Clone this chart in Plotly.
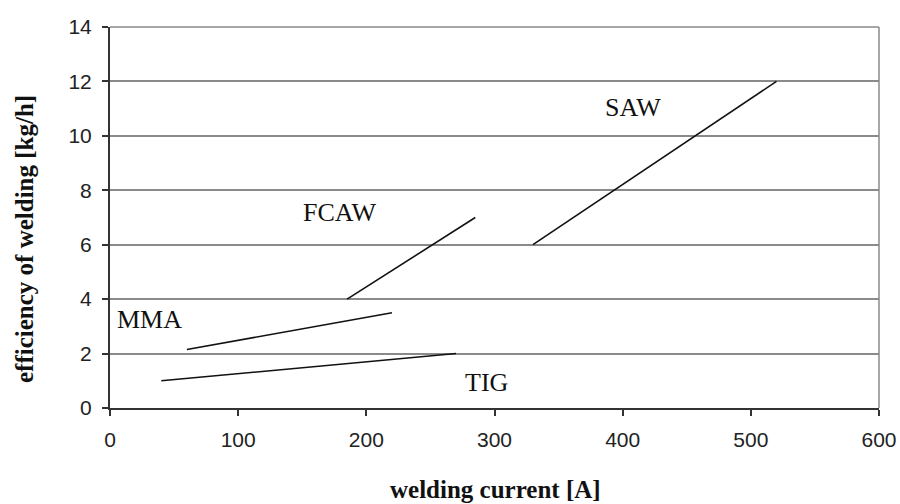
import plotly.graph_objects as go

# Data
process_names = ["TIG", "MMA", "FCAW", "SAW"]
current_start = [40, 60, 185, 330]
current_end = [270, 220, 285, 520]
eff_start = [1.0, 2.15, 4.0, 6.0]
eff_end = [2.0, 3.5, 7.0, 12.0]

label_x = [294, 31, 179, 408]
label_y = [0.95, 3.25, 7.2, 11.05]

x_ticks = [0, 100, 200, 300, 400, 500, 600]
y_ticks = [0, 2, 4, 6, 8, 10, 12, 14]

fig = go.Figure()
for i, name in enumerate(process_names):
    fig.add_trace(go.Scatter(
        x=[current_start[i], current_end[i]],
        y=[eff_start[i], eff_end[i]],
        mode="lines", line=dict(color="#111111", width=1.6),
        name=name, showlegend=False, hoverinfo="skip"))
    fig.add_annotation(x=label_x[i], y=label_y[i], text=name, showarrow=False,
                       font=dict(family="Liberation Serif", size=26, color="#111111"),
                       xanchor="center", yanchor="middle")

serif = "Liberation Serif"
sans = "Liberation Sans"

fig.update_layout(
    width=900, height=504, autosize=False,
    margin=dict(l=110, r=21, t=27, b=96, autoexpand=False),
    paper_bgcolor="white", plot_bgcolor="white",
    xaxis=dict(range=[0, 600], tickvals=x_ticks, showgrid=False, automargin=False,
               showline=True, linecolor="#333333", linewidth=2, mirror=False,
               ticks="outside", ticklen=6, tickcolor="#333333", tickwidth=1.5,
               ticklabelstandoff=6,
               tickfont=dict(family=sans, size=21, color="#222222"),
               zeroline=False, fixedrange=True),
    yaxis=dict(range=[0, 14], tickvals=y_ticks, showgrid=True, automargin=False,
               gridcolor="#8a8a8a", gridwidth=1.5,
               showline=True, linecolor="#333333", linewidth=2,
               ticks="outside", ticklen=6, tickcolor="#333333", tickwidth=1.5,
               ticklabelstandoff=6,
               tickfont=dict(family=sans, size=21, color="#222222"),
               zeroline=False, fixedrange=True),
    shapes=[
        dict(type="line", xref="paper", yref="paper", x0=0, x1=1, y0=1, y1=1,
             line=dict(color="#8a8a8a", width=1.5)),
        dict(type="line", xref="paper", yref="paper", x0=1, x1=1, y0=0, y1=1,
             line=dict(color="#8a8a8a", width=1.5)),
    ],
)

fig.add_annotation(xref="paper", yref="paper", x=(495 - 110) / 769, y=-(489 - 408) / 381,
                   text="<b>welding current [A]</b>", showarrow=False,
                   font=dict(family=serif, size=25, color="#111111"),
                   xanchor="center", yanchor="middle")
fig.add_annotation(xref="paper", yref="paper", x=-(110 - 24) / 769, y=(408 - 239) / 381,
                   text="<b>efficiency of welding [kg/h]</b>", showarrow=False, textangle=-90,
                   font=dict(family=serif, size=25, color="#111111"),
                   xanchor="center", yanchor="middle")

fig.write_html("out.html", config={"displayModeBar": False, "responsive": False},
               post_script="document.body.style.margin='0';document.body.style.overflow='hidden';")
